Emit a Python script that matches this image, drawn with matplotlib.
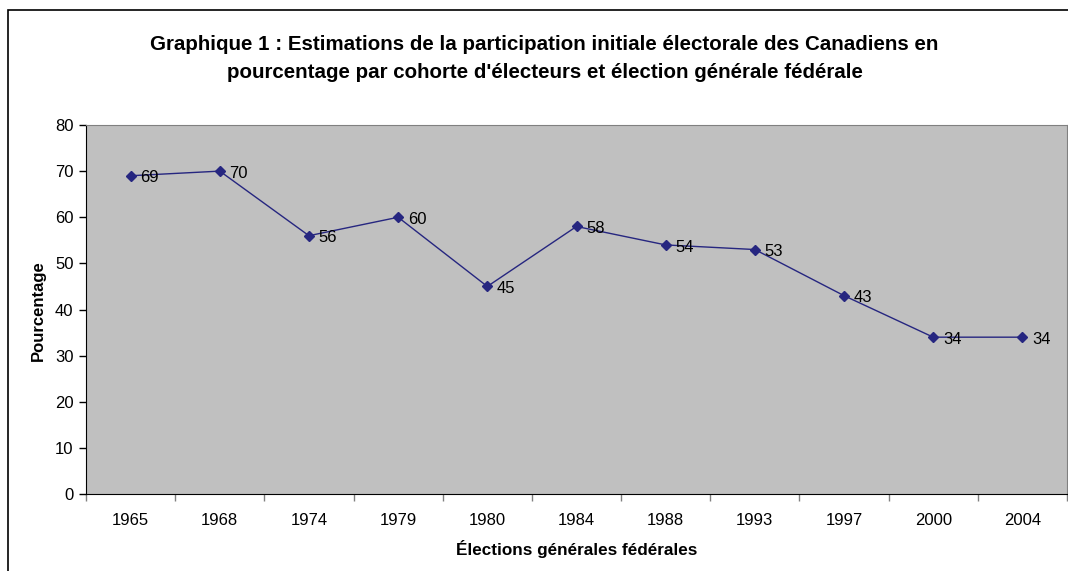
import matplotlib
matplotlib.use('agg')
import matplotlib.pyplot as plt
from matplotlib.patches import Rectangle

# data
years = ['1965', '1968', '1974', '1979', '1980', '1984', '1988', '1993', '1997', '2000', '2004']
participation = [69, 70, 56, 60, 45, 58, 54, 53, 43, 34, 34]

plt.rcParams['font.family'] = ['Liberation Sans', 'DejaVu Sans']

W, H = 1068, 571
fig = plt.figure(figsize=(W / 100, H / 100), dpi=100)
ax = fig.add_axes([86 / W, 1 - 494 / H, (1067 - 86) / W, (494 - 125) / H])

# outer chart border (runs off the right and bottom of the image)
fig.patches.append(Rectangle((8 / W, -0.1), 2, 1 - 10 / H + 0.1,
                             transform=fig.transFigure, fill=False,
                             edgecolor='black', lw=1.2, clip_on=False))

ax.set_facecolor('#c0c0c0')
x = list(range(len(years)))
ax.plot(x, participation, color='#262680', lw=1, marker='D', markersize=5.5,
        markerfacecolor='#262680', markeredgecolor='#262680')

for xi, v in zip(x, participation):
    ax.annotate(str(v), (xi, v), xytext=(7, -1.5), textcoords='offset points',
                ha='left', va='center', fontsize=12)

ax.set_xlim(-0.5, len(years) - 0.5)
ax.set_ylim(0, 80)
ax.set_yticks(range(0, 81, 10))
ax.set_xticks(x)
ax.set_xticklabels(years)
ax.set_xticks([i - 0.5 for i in range(len(years) + 1)], minor=True)
ax.tick_params(axis='x', which='major', length=0, pad=14, labelsize=12)
ax.tick_params(axis='x', which='minor', length=5, width=1, color='#808080')
ax.tick_params(axis='y', length=5, width=1, pad=4, labelsize=12, color='black')

for s in ['top', 'right']:
    ax.spines[s].set_color('#808080')
ax.spines['left'].set_color('black')
ax.spines['bottom'].set_color('black')

fig.text(0.51, 1 - 58 / H,
         "Graphique 1 : Estimations de la participation initiale électorale des Canadiens en\n"
         "pourcentage par cohorte d'électeurs et élection générale fédérale",
         ha='center', va='center', fontsize=14.8, fontweight='bold', linespacing=1.6)
fig.text(577 / W, 1 - 549 / H, 'Élections générales fédérales',
         ha='center', va='center', fontsize=12.3, fontweight='bold')
fig.text(38 / W, 1 - 311 / H, 'Pourcentage', rotation=90,
         ha='center', va='center', fontsize=12, fontweight='bold')

fig.savefig('out.png', dpi=100, facecolor='white')
